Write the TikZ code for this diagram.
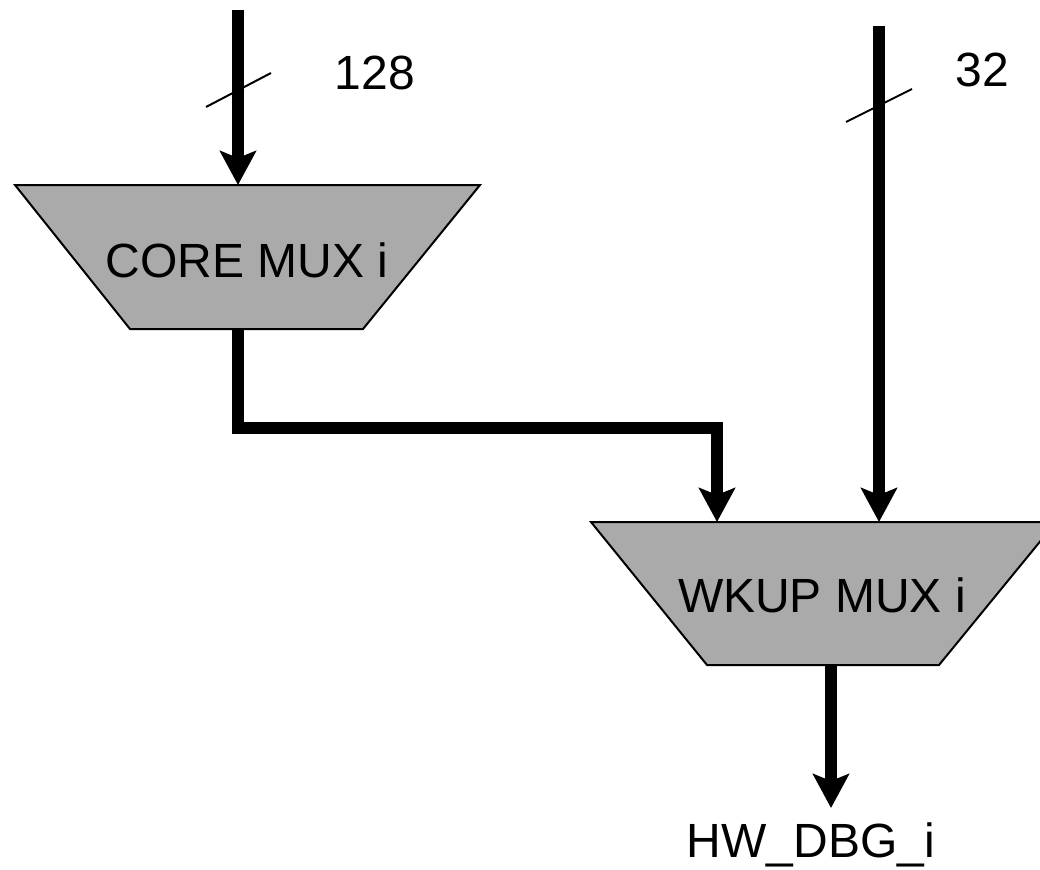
\documentclass[tikz,border=0pt]{standalone}
\usepackage{fontspec}
\setmainfont{Liberation Sans}
\usetikzlibrary{arrows.meta}
\definecolor{muxgray}{RGB}{170,170,170}
\begin{document}
\begin{tikzpicture}[x=1pt,y=-1pt,
  bus/.style={line width=12pt,line join=miter,-{Stealth[length=34pt,width=36pt,inset=7pt]}},
  tick/.style={line width=2pt},
  muxshape/.style={draw=black,line width=2pt,fill=muxgray,line join=miter},
  lbl/.style={font=\fontsize{48}{56}\selectfont,inner sep=0pt,anchor=base}]
\useasboundingbox (0,0) rectangle (1040,869);
\clip (0,0) rectangle (1040,869);
% coordinates
\coordinate (in1) at (238,10);
\coordinate (in2) at (879,26);
\coordinate (coretop) at (238,185);
\coordinate (corebot) at (238,329);
\coordinate (bend1) at (238,428);
\coordinate (bend2) at (717,428);
\coordinate (wkuptopA) at (717,522);
\coordinate (wkuptopB) at (879,522);
\coordinate (wkupbot) at (831,665);
\coordinate (outend) at (831,808);
% muxes
\draw[muxshape] (15,185) -- (480,185) -- (363,329) -- (130,329) -- cycle;
\node[lbl] (core) at (247,277) {CORE MUX i};
\draw[muxshape] (591,522) -- (1056,522) -- (939,665) -- (707,665) -- cycle;
\node[lbl] (wkup) at (822,612) {WKUP MUX i};
% buses
\draw[bus] (in1) -- (coretop);
\draw[bus] (in2) -- (wkuptopB);
\draw[bus] (corebot) -- (bend1) -- (bend2) -- (wkuptopA);
\draw[bus] (wkupbot) -- (outend);
% bus width ticks
\coordinate (t1a) at (206,107);
\coordinate (t1b) at (271,73);
\coordinate (t2a) at (846,122);
\coordinate (t2b) at (912,89);
\draw[tick] (t1a) -- (t1b);
\draw[tick] (t2a) -- (t2b);
% labels
\node[lbl] (w128) at (375,90) {128};
\node[lbl] (w32) at (982,87) {32};
\node[lbl] (hw) at (811,857) {HW\_DBG\_i};
\end{tikzpicture}
\end{document}
